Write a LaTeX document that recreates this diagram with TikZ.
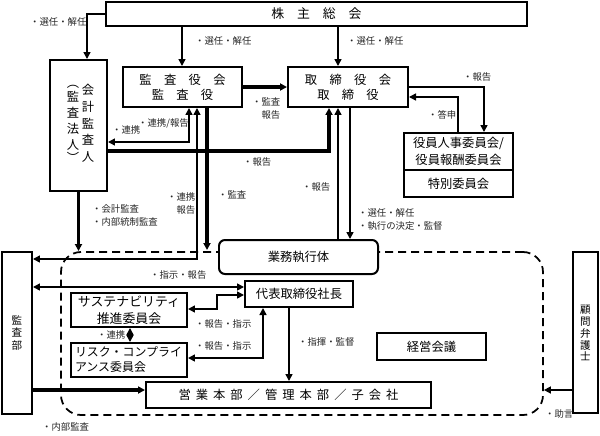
\documentclass[tikz,border=0pt]{standalone}
\usepackage{fontspec}
\setmainfont{Noto Sans CJK JP}
\usetikzlibrary{arrows.meta}
\newcommand\jsp{\hspace{1.5mm}}
\begin{document}
\begin{tikzpicture}[x=0.3mm,y=-0.3mm,
  >={Triangle[length=2.1mm,width=2.1mm]},
  bx/.style={draw, line width=1.7pt, fill=white, inner sep=0pt, align=center,
    font=\fontsize{10.5}{13}\selectfont},
  sz/.style 2 args={minimum width=#1*0.3mm, minimum height=#2*0.3mm},
  lab/.style={anchor=west, inner sep=0pt, align=left, text=black!85,
    font=\fontsize{8}{11}\selectfont},
  vt/.style={inner sep=0pt, align=center},
  ln/.style={line width=1.3pt},
  thk/.style={line width=2.8pt},
  frm/.style={draw, dashed, line width=1.5pt, dash pattern=on 2.4mm off 1.5mm,
    rounded corners=6mm, inner sep=0pt}]
\useasboundingbox (0,0) rectangle (600,435);

% dashed frame
\node[frm, sz={482}{163}] (frame) at (302,333.5) {};

% boxes
\node[bx, sz={421}{24}, font=\fontsize{11}{13}\selectfont] (kabu) at (316.5,14) {株\quad 主\quad 総\quad 会};
\node[bx, sz={57}{131}] (kaikei) at (78.5,125.5) {};
\node[vt, font=\fontsize{10.5}{14.3}\selectfont] (kk1) at (88,123.5) {会\\計\\監\\査\\人};
\node[vt, font=\fontsize{10.5}{13.6}\selectfont] (kk2) at (73,124) {︵\\[-2pt]監\\査\\法\\人\\[-2pt]︶};
\node[bx, sz={119}{40}] (kansayaku) at (182.5,87) {監\quad 査\quad 役\quad 会\\監\quad 査\quad 役};
\node[bx, sz={120}{40}] (torishimari) at (348,87) {取\quad 締\quad 役\quad 会\\取\quad 締\quad 役};
\node[bx, sz={109}{37}, font=\fontsize{10.5}{15}\selectfont] (yakuin) at (458.5,151.5) {役員人事委員会/\\役員報酬委員会};
\node[bx, sz={109}{27}] (tokubetsu) at (458.5,183.5) {特別委員会};
\node[bx, sz={159}{34}, rounded corners=1.8mm] (gyomu) at (298.5,257) {業務執行体};
\node[bx, sz={108}{26}] (daihyo) at (299,294) {代表取締役社長};
\node[bx, sz={116}{34}, font=\fontsize{11}{14.5}\selectfont] (susta) at (129,310) {サステナビリティ\\推進委員会};
\node[bx, sz={116}{34}, font=\fontsize{10.2}{12.8}\selectfont, align=left, text width=108*0.3mm] (risk) at (129,360) {リスク・コンプライ\\アンス委員会};
\node[bx, sz={109}{27}] (keiei) at (431.5,346.5) {経営会議};
\node[bx, sz={285}{26}] (eigyo) at (288.5,395) {営\jsp 業\jsp 本\jsp 部\jsp ／\jsp 管\jsp 理\jsp 本\jsp 部\jsp ／\jsp 子\jsp 会\jsp 社};
\node[bx, sz={30}{162}] (kansabu) at (17,333) {};
\node[vt, font=\fontsize{9}{10.6}\selectfont] (ksb) at (17,333) {監\\査\\部};
\node[bx, sz={25}{161}] (komon) at (585.5,332.5) {};
\node[vt, font=\fontsize{9}{10.2}\selectfont] (kmn) at (585.5,333) {顧\\問\\弁\\護\\士};

% free ends
\coordinate (a10) at (207,250);
\coordinate (a11) at (78.5,251);

% connectors
\draw[ln,->] (kabu.west) -| (87,0 |- kaikei.north);
\draw[ln,->] (182,0 |- kabu.south) -- (182,0 |- kansayaku.north);
\draw[ln,->] (338,0 |- kabu.south) -- (338,0 |- torishimari.north);
\draw[thk,->] (kansayaku.east) -- (torishimari.west);
\draw[ln,->] (torishimari.east) -| (484,0 |- yakuin.north);
\draw[ln,->] (458,0 |- yakuin.north) |- (torishimari.east |- 0,97);
\draw[ln,<->] (kaikei.east |- 0,142) -| (189,0 |- kansayaku.south);
\draw[thk,->] (kaikei.east |- 0,151) -| (329,0 |- torishimari.south);
\draw[ln,<->] (kansabu.east |- 0,259) -| (197,0 |- kansayaku.south);
\draw[thk,->] (207,0 |- kansayaku.south) -- (a10);
\draw[thk,->] (kaikei.south) -- (a11);
\draw[ln,->] (338,0 |- gyomu.north) -- (338,0 |- torishimari.south);
\draw[ln,->] (350,0 |- torishimari.south) -- (350,0 |- gyomu.north);
\draw[ln,<->] (kansabu.east |- 0,287) -- (daihyo.west |- 0,287);
\draw[ln,<->] (daihyo.west |- 0,295) -- (217,295) -- (217,309) -- (susta.east |- 0,309);
\draw[ln,<->] (263,0 |- daihyo.south) |- (risk.east |- 0,358);
\draw[ln,<->] (130,0 |- susta.south) -- (130,0 |- risk.north);
\draw[ln,->] (289,0 |- daihyo.south) -- (289,0 |- eigyo.north);
\draw[thk,->] (kansabu.east |- 0,390) -- (eigyo.west |- 0,390);
\draw[ln,->] (komon.west |- 0,390) -- (frame.east |- 0,390);

% labels
\node[lab] (l1) at (30,22) {・選任・解任};
\node[lab] (l2) at (195,41) {・選任・解任};
\node[lab] (l3) at (347,41) {・選任・解任};
\node[lab] (l4) at (463,77) {・報告};
\node[lab] (l5) at (428,115) {・答申};
\node[lab] (l6) at (252,108.5) {・監査\\\hphantom{・}報告};
\node[lab] (l7) at (138,123) {・連携/報告};
\node[lab] (l8) at (112,130) {・連携};
\node[lab] (l9) at (243,162) {・報告};
\node[lab] (l10) at (167,203.5) {・連携\\\hphantom{・}報告};
\node[lab] (l11) at (218,195) {・監査};
\node[lab] (l12) at (92,215.5) {・会計監査\\・内部統制監査};
\node[lab] (l13) at (302,187) {・報告};
\node[lab] (l14) at (358,219.5) {・選任・解任\\・執行の決定・監督};
\node[lab] (l15) at (150,275) {・指示・報告};
\node[lab] (l16) at (195,324) {・報告・指示};
\node[lab] (l17) at (195,346) {・報告・指示};
\node[lab] (l18) at (97,335) {・連携};
\node[lab] (l19) at (298,342) {・指揮・監督};
\node[lab] (l20) at (42,427) {・内部監査};
\node[lab] (l21) at (545,414) {・助言};
\end{tikzpicture}
\end{document}
